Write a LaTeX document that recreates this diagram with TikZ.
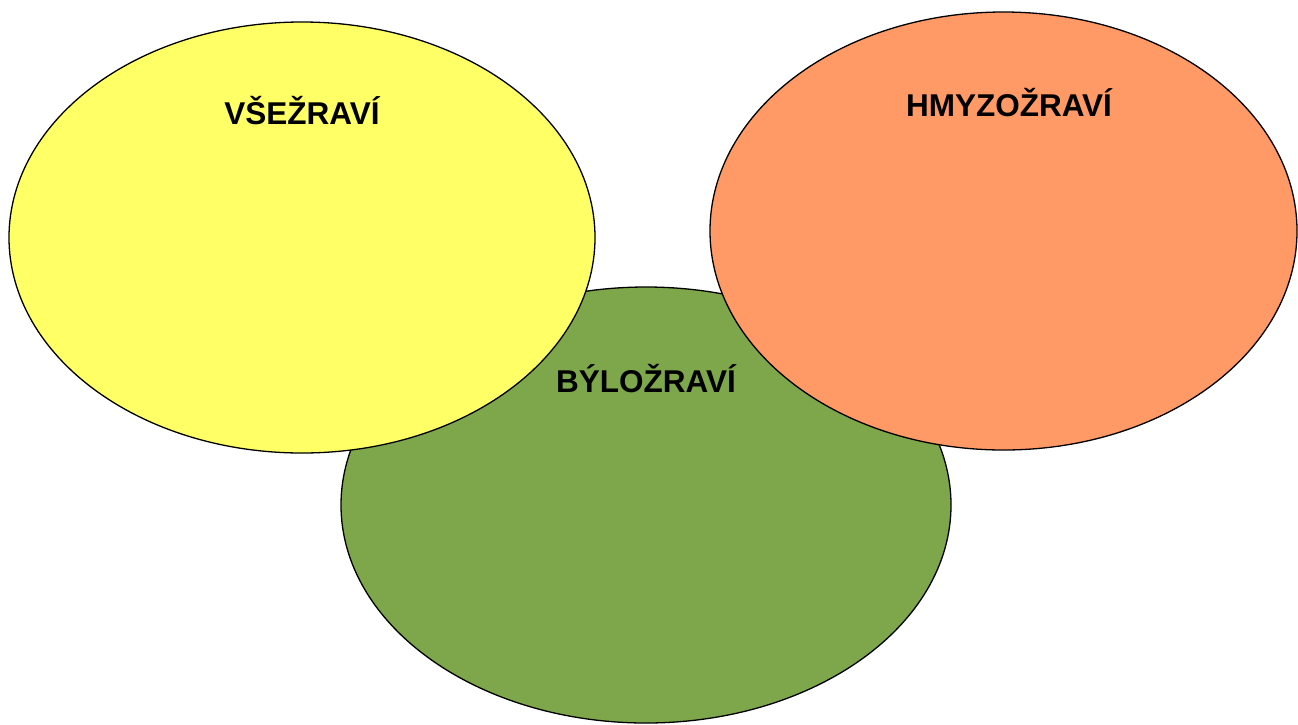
\documentclass[tikz,border=0pt]{standalone}
\usepackage{fontspec}
\setmainfont{Liberation Sans}
\definecolor{cyel}{HTML}{FFFF66}
\definecolor{corg}{HTML}{FF9966}
\definecolor{cgrn}{HTML}{7EA64A}
\begin{document}
\begin{tikzpicture}[x=1pt,y=-1pt,
  blob/.style={draw=black,line width=1.3pt},
  lab/.style={font=\fontsize{31.5}{36}\selectfont\bfseries,anchor=base,inner sep=0pt}]
\useasboundingbox (0,0) rectangle (1298,724);
\begin{scope}
\clip (0,0) rectangle (1298,724);
\path[blob,fill=cgrn] (646,505) ellipse [x radius=305,y radius=218];
\path[blob,fill=cyel] (302,237.5) ellipse [x radius=293,y radius=215.5];
\path[blob,fill=corg] (1003.5,231) ellipse [x radius=293.5,y radius=219];
\end{scope}
\node[lab] (vse) at (302,124) {VŠEŽRAVÍ};
\node[lab] (hmy) at (1009,116) {HMYZOŽRAVÍ};
\node[lab] (byl) at (646,392) {BÝLOŽRAVÍ};
\end{tikzpicture}
\end{document}
